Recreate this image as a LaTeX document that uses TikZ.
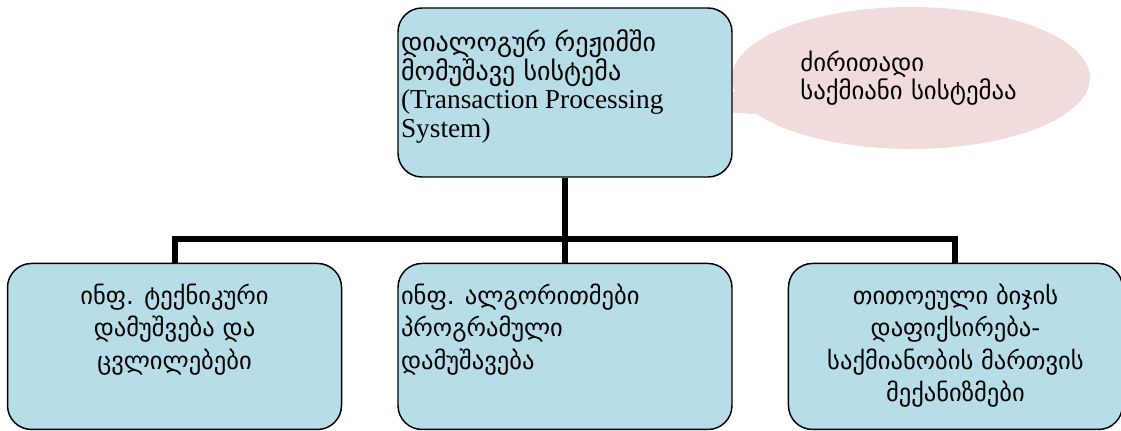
\documentclass[tikz,border=0pt]{standalone}
\usepackage{fontspec}
\setmainfont{Liberation Serif}
\newfontfamily\geo{DejaVu Sans}
\usetikzlibrary{shapes,shapes.callouts,positioning}

\definecolor{boxblue}{HTML}{B7DEE8}
\definecolor{notepink}{HTML}{F2DCDB}
\newcommand{\boxtext}[1]{\parbox[c][94pt][t]{246pt}{#1}}

\begin{document}
\begin{tikzpicture}[x=0.75pt,y=-0.75pt,
    node distance=63.75pt and 41.25pt,
    block/.style={draw,rectangle,rounded corners=18pt,fill=boxblue,line width=1.1pt,
      minimum width=250.5pt,minimum height=124.5pt,inner xsep=2pt,inner ysep=12pt,
      font=\geo\fontsize{18.4}{24.4}\selectfont},
    link/.style={line width=4.5pt,line join=miter},
    note/.style={ellipse callout,fill=notepink,minimum width=268.5pt,minimum height=106.5pt,
      inner sep=0pt,text width=166pt,align=left,font=\geo\fontsize{18.6}{21}\selectfont}]

  \useasboundingbox (0,0) rectangle (1121,430);

  \coordinate (ptr) at (700,110);
  \node[note, callout absolute pointer=(ptr), callout pointer arc=20] (core) at (911,78)
    {ძირითადი\\საქმიანი სისტემაა};

  \node[block, minimum height=126.75pt, font=\geo\fontsize{19.5}{21.4}\selectfont] (tps) at (565,92.5)
    {\boxtext{\raggedright დიალოგურ რეჟიმში\\მომუშავე სისტემა\\{\rmfamily\fontsize{20.5}{21.4}\selectfont (Transaction Processing\\System)}}};

  \node[block, below=of tps] (algo)
    {\boxtext{\raggedright ინფ. ალგორითმები\\პროგრამული\\დამუშავება}};
  \node[block, left=of algo] (tech)
    {\boxtext{\centering ინფ. ტექნიკური\\დამუშვება და\\ცვლილებები}};
  \node[block, right=of algo] (rules)
    {\boxtext{\centering თითოეული ბიჯის\\დაფიქსირება-\\საქმიანობის მართვის\\მექანიზმები}};

  \coordinate[below=45.75pt of tps.south] (fork);

  \draw[link] (tps) -- (fork);
  \draw[link] (tech.north) |- (fork) -| (rules.north);
  \draw[link] (fork) -- (algo);

\end{tikzpicture}
\end{document}
